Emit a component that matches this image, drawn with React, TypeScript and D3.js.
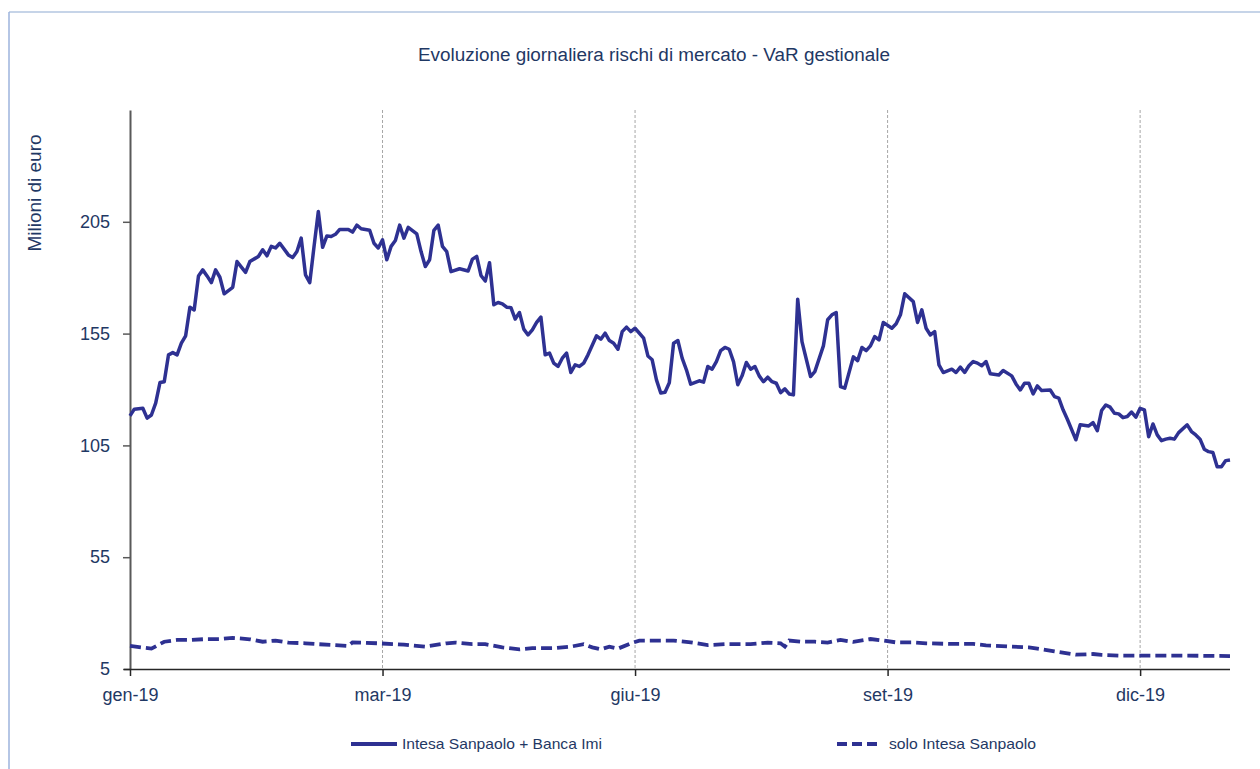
import React, { useRef, useEffect } from 'react'
import * as d3 from 'd3'

// trading-day index (0 = first day of 2019) and VaR in millions of euro
const mainDays = [
  0, 1, 3, 4, 5, 6, 7, 8, 9, 10, 11, 12, 13, 14, 15, 16, 17, 18, 19, 20, 21, 22, 24, 25, 27, 28, 30, 31, 32, 33,
  34, 35, 37, 38, 39, 40, 41, 42, 43, 44, 45, 46, 47, 48, 49, 51, 52, 53, 54, 56, 57, 58, 59, 60, 61, 62, 63, 64,
  65, 67, 68, 69, 70, 71, 72, 73, 74, 75, 77, 79, 80, 81, 82, 83, 84, 85, 86, 87, 88, 89, 90, 91, 92, 93, 94, 95,
  96, 97, 98, 99, 100, 101, 102, 103, 104, 105, 106, 107, 109, 110, 111, 112, 113, 114, 115, 116, 117, 118, 120,
  121, 122, 123, 124, 125, 126, 127, 128, 129, 130, 131, 133, 134, 135, 136, 137, 138, 139, 140, 141, 142, 143,
  144, 145, 146, 147, 148, 149, 150, 151, 152, 153, 154, 155, 156, 157, 159, 160, 162, 163, 164, 165, 166, 167,
  169, 170, 171, 172, 173, 174, 175, 176, 178, 179, 180, 181, 183, 184, 185, 186, 187, 188, 189, 190, 192, 193,
  194, 195, 196, 197, 198, 199, 200, 201, 203, 204, 206, 207, 208, 209, 210, 211, 212, 213, 215, 216, 217, 218,
  219, 221, 222, 224, 225, 226, 227, 228, 229, 230, 231, 232, 233, 234, 235, 236, 237, 238, 239, 240, 241, 242,
  243, 244, 245, 247, 248, 249, 250, 251, 252, 253, 254, 255, 256, 257,
]
const mainValues = [
  118.2, 121.2, 121.6, 117.2, 118.6, 123.9, 133.1, 133.5, 145.5, 146.5, 145.5, 150.7, 154, 166.8, 165.6, 180.8,
  183.5, 180.8, 177.8, 183.5, 180.2, 172.8, 175.7, 187.2, 182.4, 187.2, 189.5, 192.5, 189.8, 194, 193.3, 195.4,
  190.2, 189, 191.7, 197.7, 181.3, 177.8, 194, 209.6, 193.6, 198.7, 198.4, 199.4, 201.6, 201.6, 200.4, 203.5,
  201.9, 201.2, 195.4, 193.3, 196.9, 188, 194, 196.6, 203.5, 197.7, 202.5, 199.6, 191.7, 185, 188, 201.2, 203.5,
  194, 191.7, 182.7, 184, 183, 188.3, 189.5, 181, 178.5, 186.7, 167.9, 168.9, 168.3, 166.8, 166.6, 161.5, 164.4,
  157, 154.4, 156.7, 160, 162.4, 145.5, 146.3, 141.8, 140.3, 144, 146.3, 137.6, 141, 140.3, 141.8, 145.5, 154,
  152.5, 155.2, 151.9, 150.7, 148, 155.9, 157.9, 155.9, 157.4, 153, 145, 143.3, 134.3, 128.4, 128.8, 133, 150.7,
  151.9, 144, 138.8, 132.4, 133.9, 133.3, 140.3, 139.1, 142.5, 147.4, 148.8, 148, 142.5, 132.1, 136.1, 142.1,
  139.1, 140.3, 136.1, 133.5, 135.5, 133.5, 132.8, 128.6, 130.3, 128, 127.6, 170.4, 151.4, 135.8, 138, 149.5,
  161.2, 163.4, 164.4, 131.3, 130.6, 144.6, 142.9, 148.8, 147.4, 149.5, 153.7, 152.2, 160, 157.4, 159.4, 163.4,
  172.8, 169.3, 160, 165.6, 157.4, 154.4, 155.9, 141, 137.6, 139.1, 137.6, 140, 137.6, 140.6, 142.5, 141.8,
  140.6, 142.5, 137, 136.5, 138.5, 136.1, 132.5, 129.8, 132.8, 132.8, 128, 131.6, 129.5, 129.8, 126.8, 126.1,
  120.9, 116.7, 107.5, 114.2, 113.7, 115.2, 111.6, 120.6, 123.1, 122.1, 119.4, 119.1, 117.4, 117.9, 119.9, 117.6,
  121.6, 120.9, 108.9, 114.6, 109.7, 107.1, 107.8, 108.2, 107.8, 110.7, 114.2, 111.2, 109.7, 107.8, 103.3,
  102.2, 101.8, 95.5, 95.5, 98.2, 98.5,
]

const soloDays = [
  0, 5, 8, 11, 14, 18, 21, 24, 28, 31, 34, 37, 41, 44, 48, 51, 52, 54, 58, 64, 69, 74, 76, 80, 83, 87, 91, 94, 99,
  103, 106, 108, 110, 112, 114, 117, 119, 127, 131, 135, 139, 145, 149, 152, 153, 154, 157, 160, 163, 166, 169,
  173, 176, 179, 183, 186, 192, 197, 200, 206, 210, 212, 216, 219, 221, 225, 227, 231, 237, 241, 245, 257,
]
const soloValues = [
  15.3, 14.1, 17.2, 18, 18, 18.4, 18.4, 18.9, 18.3, 17.2, 17.7, 16.8, 16.5, 16.1, 15.7, 15.3, 16.9, 16.8, 16.5,
  15.9, 15, 16.5, 16.8, 16.1, 16.1, 14.7, 13.8, 14.3, 14.3, 15, 16.1, 14.7, 13.8, 15, 14.1, 16.5, 17.7, 17.7,
  16.9, 15.7, 16.1, 16.1, 16.8, 16.5, 15, 17.7, 17.2, 17.2, 16.8, 18, 17.1, 18.4, 17.7, 16.9, 16.9, 16.5, 16.2,
  16.2, 15.6, 15, 14.7, 14.1, 12.9, 12, 11.4, 11.7, 11.3, 11, 11, 11, 11, 10.8,
]

const lastDay = 257
const monthTicks = [0, 59, 118, 177, 236]
const monthLabels = ['gen-19', 'mar-19', 'giu-19', 'set-19', 'dic-19']
const yTicks = [5, 55, 105, 155, 205]
const yMin = 5
const yMax = 255

const title = 'Evoluzione giornaliera rischi di mercato - VaR gestionale'
const yTitle = 'Milioni di euro'
const seriesNames = ['Intesa Sanpaolo + Banca Imi', 'solo Intesa Sanpaolo']

const W = 1260
const H = 769
const blue = '#2e3192'
const navy = '#1f3864'
const font = "'Liberation Sans', Arial, sans-serif"

export default function App() {
  const ref = useRef<SVGSVGElement>(null)

  useEffect(() => {
    const svg = d3.select(ref.current)
    svg.selectAll('*').remove()

    const left = 130
    const right = 1230
    const top = 110
    const bottom = 669

    const x = d3.scaleLinear().domain([0, lastDay]).range([left, right])
    const y = d3.scaleLinear().domain([yMin, yMax]).range([bottom, top])

    // chart area border (only top + left are inside the picture)
    svg.append('line').attr('x1', 9).attr('x2', W).attr('y1', 12).attr('y2', 12)
      .attr('stroke', '#c6d4e8').attr('stroke-width', 2)
    svg.append('line').attr('x1', 9).attr('x2', 9).attr('y1', 12).attr('y2', H)
      .attr('stroke', '#9db3dd').attr('stroke-width', 1.5)

    svg.append('text')
      .attr('x', 654).attr('y', 61)
      .attr('text-anchor', 'middle')
      .attr('font-size', 18)
      .attr('fill', navy)
      .attr('textLength', 472)
      .attr('lengthAdjust', 'spacingAndGlyphs')
      .text(title)

    // dashed gridlines on the month ticks (except the first)
    svg.append('g')
      .selectAll('line')
      .data(monthTicks.slice(1))
      .enter()
      .append('line')
      .attr('x1', d => x(d)).attr('x2', d => x(d))
      .attr('y1', top).attr('y2', bottom)
      .attr('stroke', '#a6a6a6')
      .attr('stroke-dasharray', '3,2')
      .attr('stroke-width', 1)

    const yAxis = svg.append('g')
      .attr('transform', `translate(${left},0)`)
      .call(d3.axisLeft(y).tickValues(yTicks).tickSize(7).tickPadding(13).tickSizeOuter(0))
    yAxis.select('.domain').attr('stroke', '#595959').attr('stroke-width', 2)
    yAxis.selectAll('.tick line').attr('stroke', '#595959').attr('stroke-width', 1.5)
    yAxis.selectAll('.tick text')
      .attr('font-size', 18).attr('font-family', font).attr('fill', navy)

    const xAxis = svg.append('g')
      .attr('transform', `translate(0,${bottom})`)
      .call(d3.axisBottom(x).tickValues(monthTicks)
        .tickFormat((d, i) => monthLabels[i]).tickSize(7).tickPadding(12).tickSizeOuter(0))
    xAxis.select('.domain').attr('stroke', '#262626').attr('stroke-width', 1.5)
      .attr('d', `M${left - 6},0.5H${right}`)
    xAxis.selectAll('.tick line').attr('stroke', '#262626').attr('stroke-width', 1.5)
    xAxis.selectAll('.tick text')
      .attr('font-size', 18).attr('font-family', font).attr('fill', navy)

    svg.append('text')
      .attr('transform', 'translate(41,193) rotate(-90)')
      .attr('text-anchor', 'middle')
      .attr('font-size', 18)
      .attr('fill', navy)
      .attr('textLength', 117)
      .attr('lengthAdjust', 'spacingAndGlyphs')
      .text(yTitle)

    const mainLine = d3.line<number>()
      .x(d => x(mainDays[d]))
      .y(d => y(mainValues[d]))
    const soloLine = d3.line<number>()
      .x(d => x(soloDays[d]))
      .y(d => y(soloValues[d]))

    svg.append('path')
      .attr('d', soloLine(d3.range(soloDays.length)))
      .attr('fill', 'none')
      .attr('stroke', blue)
      .attr('stroke-width', 3.8)
      .attr('stroke-dasharray', '11,5')

    svg.append('path')
      .attr('d', mainLine(d3.range(mainDays.length)))
      .attr('fill', 'none')
      .attr('stroke', blue)
      .attr('stroke-width', 3.5)
      .attr('stroke-linejoin', 'round')

    // legend
    const legendY = 744
    const leg = svg.append('g')
    leg.append('line').attr('x1', 351).attr('x2', 397).attr('y1', legendY).attr('y2', legendY)
      .attr('stroke', blue).attr('stroke-width', 4)
    leg.append('text').attr('x', 402).attr('y', legendY + 5)
      .attr('font-size', 15).attr('fill', navy)
      .attr('textLength', 200).attr('lengthAdjust', 'spacingAndGlyphs')
      .text(seriesNames[0])
    leg.append('line').attr('x1', 837).attr('x2', 880).attr('y1', legendY).attr('y2', legendY)
      .attr('stroke', blue).attr('stroke-width', 4).attr('stroke-dasharray', '10,5')
    leg.append('text').attr('x', 889).attr('y', legendY + 5)
      .attr('font-size', 15).attr('fill', navy)
      .attr('textLength', 147).attr('lengthAdjust', 'spacingAndGlyphs')
      .text(seriesNames[1])
  }, [])

  return (
    <svg
      ref={ref}
      width={W}
      height={H}
      style={{ position: 'absolute', left: 0, top: 0, background: '#fff', fontFamily: font }}
    />
  )
}
